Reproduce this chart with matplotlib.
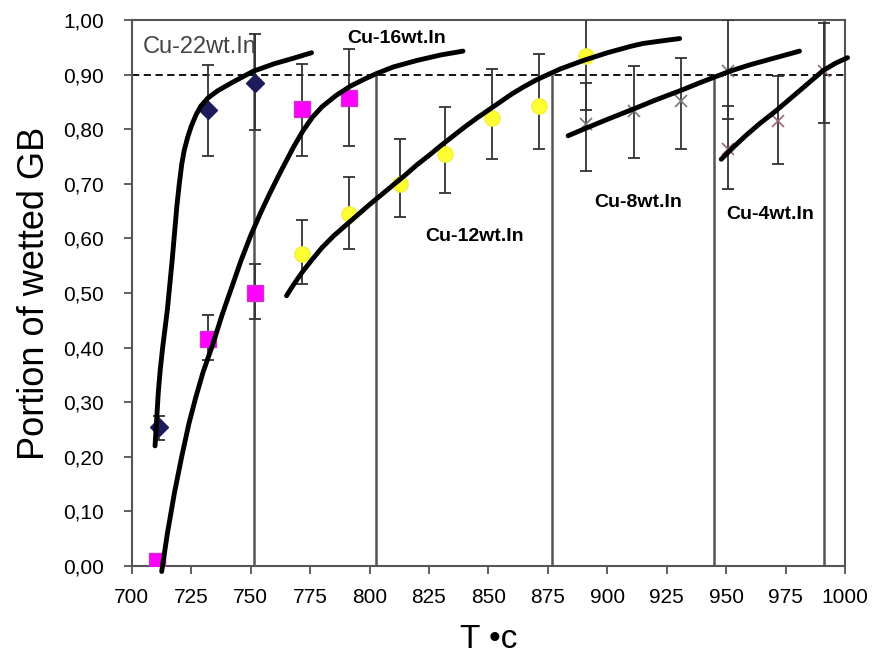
import matplotlib.pyplot as plt
import numpy as np

plt.rcParams['font.family'] = ['Liberation Sans', 'DejaVu Sans']

# measured points (T in deg C, portion of wetted GB) with error bar ends
t22 = [711.5, 732, 751.8]
v22 = [0.255, 0.835, 0.884]
lo22 = [0.23, 0.751, 0.798]
hi22 = [0.275, 0.917, 0.975]

t16 = [710.5, 732, 751.8, 771.7, 791.3]
v16 = [0.01, 0.416, 0.50, 0.837, 0.858]
lo16 = [0.0, 0.377, 0.453, 0.751, 0.77]
hi16 = [0.02, 0.459, 0.553, 0.919, 0.946]

t12 = [771.7, 791.3, 812.7, 831.6, 851.3, 871.3, 891.2]
v12 = [0.572, 0.645, 0.70, 0.754, 0.821, 0.843, 0.934]
lo12 = [0.517, 0.581, 0.639, 0.684, 0.745, 0.764, 0.835]
hi12 = [0.633, 0.712, 0.782, 0.84, 0.91, 0.937, 1.013]

t8 = [891.2, 911, 930.9, 950.7]
v8 = [0.809, 0.834, 0.852, 0.907]
lo8 = [0.724, 0.748, 0.764, 0.819]
hi8 = [0.885, 0.916, 0.931, 1.0]

t4 = [950.7, 971.7, 990.9]
v4 = [0.764, 0.815, 0.907]
lo4 = [0.69, 0.736, 0.812]
hi4 = [0.843, 0.898, 0.995]

# fitted trend curves
c22_t = [709.8, 710.5, 711.2, 712, 713, 714, 715, 716, 717, 718, 719, 720, 721, 722,
         723.5, 725, 727, 729, 732, 736, 742, 751, 760, 768, 775.6]
c22_v = [0.22, 0.27, 0.32, 0.36, 0.40, 0.435, 0.47, 0.515, 0.56, 0.61, 0.66, 0.70, 0.735, 0.76,
         0.785, 0.805, 0.826, 0.842, 0.857, 0.87, 0.885, 0.906, 0.92, 0.93, 0.94]
c16_t = [712.6, 715, 718, 721, 724, 727, 730, 734, 738, 742, 746, 750, 754, 758, 762, 765,
         768, 772, 776, 780, 786, 792, 798, 803, 810, 820, 830, 839.3]
c16_v = [-0.01, 0.06, 0.135, 0.2, 0.26, 0.31, 0.355, 0.405, 0.46, 0.51, 0.56, 0.605, 0.645,
         0.682, 0.717, 0.742, 0.767, 0.797, 0.822, 0.841, 0.862, 0.879, 0.892, 0.902, 0.914,
         0.926, 0.936, 0.943]
c12_t = [765.1, 768, 772, 776, 780, 785, 790, 795, 800, 805, 810, 815, 820, 825, 830, 835,
         840, 845, 850, 855, 860, 865, 870, 875, 880, 885, 890, 895, 900, 905, 910, 915,
         920, 925, 930.4]
c12_v = [0.495, 0.515, 0.54, 0.562, 0.583, 0.605, 0.624, 0.643, 0.662, 0.68, 0.698, 0.716,
         0.735, 0.752, 0.77, 0.787, 0.804, 0.82, 0.835, 0.85, 0.865, 0.878, 0.89, 0.9, 0.91,
         0.918, 0.926, 0.933, 0.94, 0.946, 0.952, 0.957, 0.96, 0.963, 0.966]
c8_t = [883.5, 890, 900, 911, 920, 930.9, 940, 951.4, 960, 970, 980.8]
c8_v = [0.788, 0.8, 0.818, 0.837, 0.853, 0.871, 0.887, 0.906, 0.918, 0.93, 0.943]
c4_t = [947.9, 953, 958.4, 964, 971, 978, 985, 990.6, 996, 1001]
c4_v = [0.745, 0.767, 0.789, 0.81, 0.834, 0.86, 0.886, 0.907, 0.921, 0.931]

# tall vertical lines (x position, top)
vl_x = [751.4, 802.7, 876.9, 945.0, 991.0]
vl_top = [0.975, 0.897, 0.897, 0.895, 1.0]

xticks = list(range(700, 1001, 25))
yticks = [0.0, 0.1, 0.2, 0.3, 0.4, 0.5, 0.6, 0.7, 0.8, 0.9, 1.0]
ytick_labels = ['0,00', '0,10', '0,20', '0,30', '0,40', '0,50', '0,60', '0,70', '0,80', '0,90', '1,00']

fig = plt.figure(figsize=(8.73, 6.6), dpi=100)
ax = fig.add_axes([0.1509, 0.1424, 0.8172, 0.8273])

for x, top in zip(vl_x, vl_top):
    ax.plot([x, x], [0, top], color='#555555', lw=1.8, zorder=1)

ax.axhline(0.9, color='black', lw=1.3, ls=(0, (4, 2.5)), zorder=2)

err_kw = dict(fmt='none', ecolor='#333333', elinewidth=1.3, capsize=4, capthick=1.3, zorder=3)
for t, v, lo, hi in [(t22, v22, lo22, hi22), (t16, v16, lo16, hi16), (t12, v12, lo12, hi12),
                     (t8, v8, lo8, hi8), (t4, v4, lo4, hi4)]:
    yerr = [np.array(v) - np.array(lo), np.array(hi) - np.array(v)]
    ax.errorbar(t, v, yerr=yerr, **err_kw)

ax.plot(t12, v12, 'o', color='#ffff33', ms=11, mec='#f0f040', zorder=4)
ax.plot(t16, v16, 's', color='#ff00ff', ms=11, mec='#cc33cc', zorder=4)
ax.plot(t22, v22, 'D', color='#1c1c5c', ms=9, zorder=4)
ax.plot(t8, v8, 'x', color='#777777', ms=9, mew=1.2, zorder=4)
ax.plot(t4, v4, 'x', color='#996677', ms=9, mew=1.2, zorder=4)

for ct, cv in [(c22_t, c22_v), (c16_t, c16_v), (c12_t, c12_v), (c8_t, c8_v), (c4_t, c4_v)]:
    ax.plot(ct, cv, color='black', lw=3.5, solid_capstyle='round', solid_joinstyle='round',
            zorder=5, clip_on=False)

ax.text(704.5, 0.95, 'Cu-22wt.In', fontsize=17, color='#444444', va='center', ha='left')
ax.text(790.5, 0.966, 'Cu-16wt.In', fontsize=14, fontweight='bold', va='center', ha='left')
ax.text(823.3, 0.603, 'Cu-12wt.In', fontsize=14, fontweight='bold', va='center', ha='left')
ax.text(894.3, 0.665, 'Cu-8wt.In', fontsize=14, fontweight='bold', va='center', ha='left')
ax.text(950.2, 0.643, 'Cu-4wt.In', fontsize=14, fontweight='bold', va='center', ha='left')

ax.set_xlim(700, 1000)
ax.set_ylim(0, 1.0)
ax.set_xticks(xticks)
ax.set_xticklabels([str(x) for x in xticks], fontsize=15)
ax.set_yticks(yticks)
ax.set_yticklabels(ytick_labels, fontsize=15)
ax.tick_params(axis='x', direction='out', length=6, width=1.2, color='#444444', pad=10)
ax.tick_params(axis='y', direction='out', length=6, width=1.2, color='#444444', pad=14)
for s in ax.spines.values():
    s.set_color('#555555')
    s.set_linewidth(1.5)

ax.set_ylabel('Portion of wetted GB', fontsize=26, labelpad=8)
ax.set_xlabel('T \u2022c', fontsize=24, labelpad=12)

fig.savefig('out.png', dpi=100)
